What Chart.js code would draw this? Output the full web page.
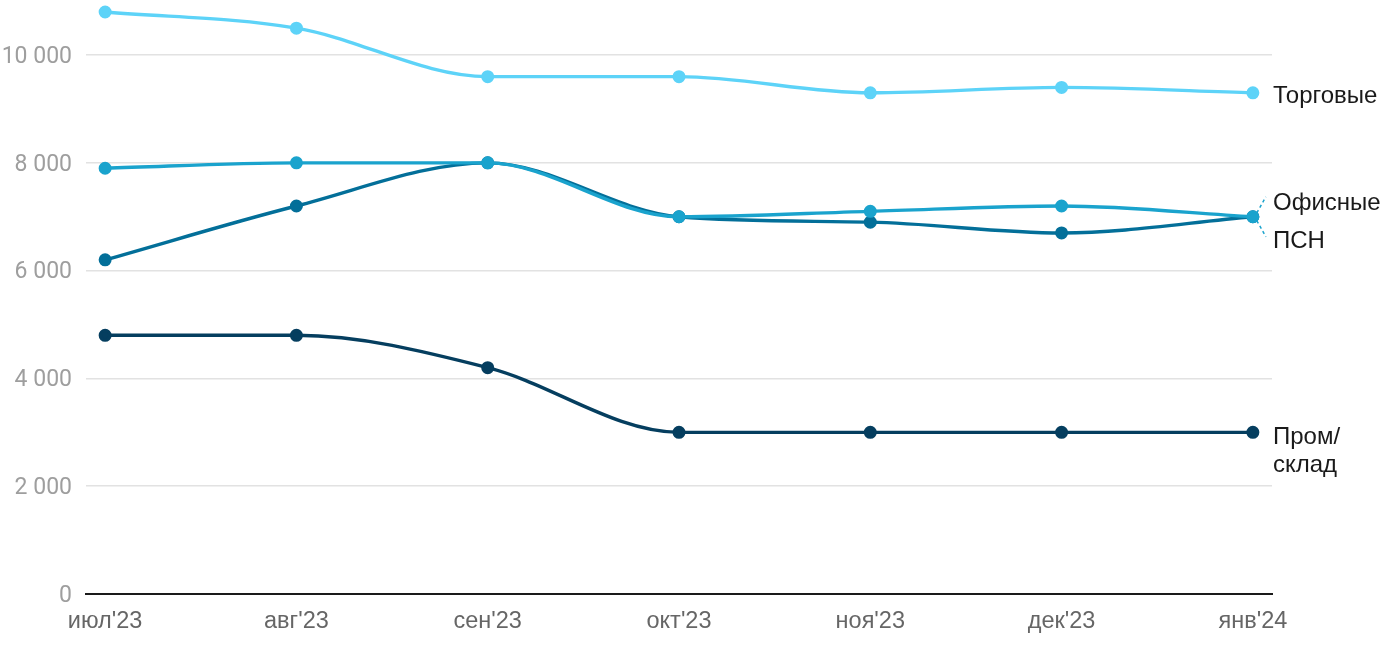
<!DOCTYPE html>
<html>
<head>
<meta charset="utf-8">
<script src="https://cdn.jsdelivr.net/npm/chart.js@4"></script>
<style>
  body { margin: 0; background: #fff; }
  canvas { display: block; }
</style>
</head>
<body>
<canvas id="chart" width="1400" height="650"></canvas>
<script>
// months on x axis
const months = ["июл'23", "авг'23", "сен'23", "окт'23", "ноя'23", "дек'23", "янв'24"];
const yTicks = [0, 2000, 4000, 6000, 8000, 10000];

// series values
const trade = [10800, 10500, 9600, 9600, 9300, 9400, 9300];
const office = [7900, 8000, 8000, 7000, 7100, 7200, 7000];
const psn = [6200, 7200, 8000, 7000, 6900, 6700, 7000];
const warehouse = [4800, 4800, 4200, 3000, 3000, 3000, 3000];

const seriesNames = ["Торговые", "Офисные", "ПСН", "Пром/склад"];
const seriesColors = ["#5dd3f8", "#1aa3cd", "#036f99", "#053e5f"];

function toPoints(arr) {
  return arr.map((v, i) => ({ x: i, y: v }));
}

function makeSet(idx, arr) {
  return {
    label: seriesNames[idx],
    data: toPoints(arr),
    borderColor: seriesColors[idx],
    backgroundColor: seriesColors[idx],
    borderWidth: 3.4,
    pointRadius: 4.8,
    pointHoverRadius: 4.8,
    cubicInterpolationMode: 'monotone',
    clip: false
  };
}

// labels at the right end of lines
const endLabels = {
  id: 'endLabels',
  afterDatasetsDraw(chart) {
    const ctx = chart.ctx;
    const ys = chart.scales.y;
    const xs = chart.scales.x;
    const lx = 1273;
    ctx.save();
    ctx.fillStyle = '#1a1a1a';
    ctx.font = '24px "Liberation Sans"';
    ctx.textBaseline = 'middle';
    ctx.textAlign = 'left';
    ctx.fillText(seriesNames[0], lx, ys.getPixelForValue(trade[6]) + 4);
    const yo = ys.getPixelForValue(office[6]);
    ctx.fillText(seriesNames[1], lx, yo - 13);
    ctx.fillText(seriesNames[2], lx, yo + 25);
    ctx.fillText('Пром/', lx, ys.getPixelForValue(warehouse[6]) + 5);
    ctx.fillText('склад', lx, ys.getPixelForValue(warehouse[6]) + 33);

    // dashed connectors
    const px = xs.getPixelForValue(6);
    ctx.strokeStyle = '#1aa3cd';
    ctx.lineWidth = 1.5;
    ctx.setLineDash([3, 3]);
    ctx.beginPath();
    ctx.moveTo(px + 4, yo - 4);
    ctx.lineTo(px + 13, yo - 20);
    ctx.moveTo(px + 4, yo + 4);
    ctx.lineTo(px + 13, yo + 20);
    ctx.stroke();
    ctx.restore();
  }
};

new Chart(document.getElementById('chart'), {
  type: 'line',
  data: {
    datasets: [
      makeSet(0, trade),
      makeSet(1, office),
      makeSet(2, psn),
      makeSet(3, warehouse)
    ]
  },
  options: {
    responsive: false,
    animation: false,
    layout: { padding: { top: 0, right: 128, left: 0, bottom: 0 } },
    plugins: {
      legend: { display: false },
      tooltip: { enabled: false }
    },
    scales: {
      x: {
        type: 'linear',
        min: -0.1,
        max: 6.1,
        afterBuildTicks: (scale) => { scale.ticks = months.map((m, i) => ({ value: i })); },
        afterFit: (scale) => { scale.height = 56; scale.paddingLeft = 0; scale.paddingRight = 0; },
        grid: { display: false, drawTicks: false },
        border: { display: true, color: '#1a1a1a', width: 2 },
        ticks: {
          callback: (v) => months[v],
          color: '#666',
          font: { family: 'Liberation Sans', size: 23.5 },
          padding: 13,
          maxRotation: 0,
          autoSkip: false
        }
      },
      y: {
        min: 0,
        max: 10870,
        afterBuildTicks: (scale) => { scale.ticks = yTicks.map(v => ({ value: v })); },
        afterFit: (scale) => { scale.width = 86; scale.paddingTop = 0; scale.paddingBottom = 0; },
        grid: { color: '#e2e2e2', lineWidth: 1.5, drawTicks: false },
        border: { display: false },
        ticks: {
          callback: (v) => v.toLocaleString('ru-RU').replace(/\s/g, ' '),
          color: '#9e9e9e',
          font: { family: 'Roboto', size: 23 },
          padding: 14,
          labelOffset: 2
        }
      }
    }
  },
  plugins: [endLabels]
});
</script>
</body>
</html>
